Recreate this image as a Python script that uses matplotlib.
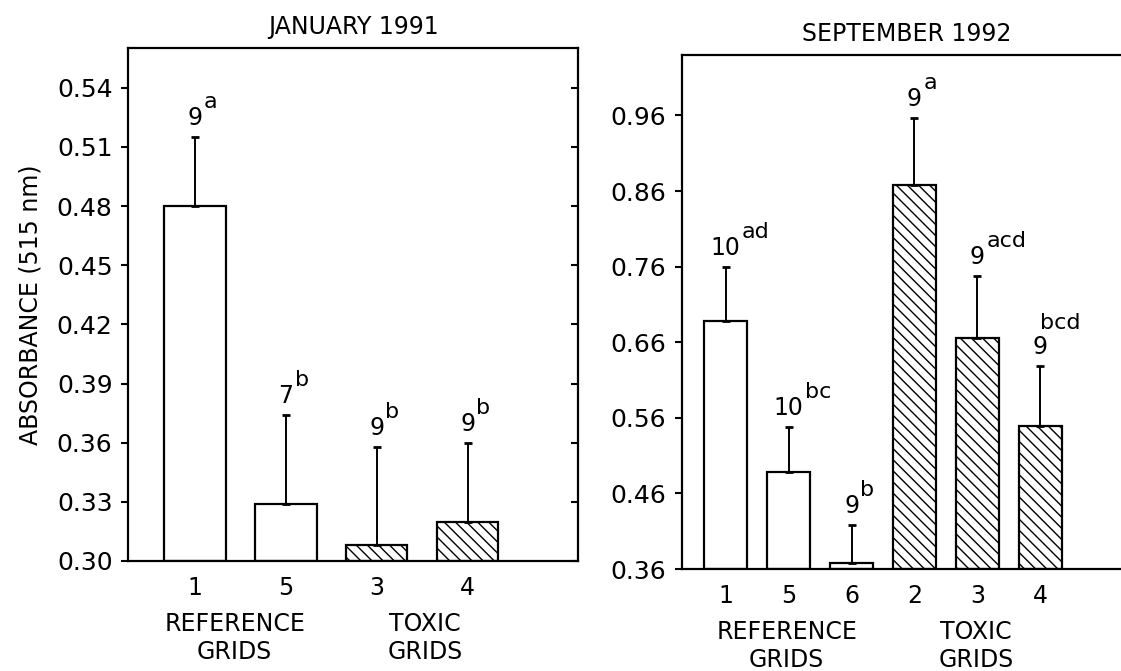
import numpy as np
import matplotlib
matplotlib.use('Agg')
import matplotlib.pyplot as plt

plt.rcParams['font.family'] = ['DejaVu Sans']
plt.rcParams['hatch.linewidth'] = 1.0

# January 1991 data
jan_grids = ['1', '5', '3', '4']
jan_means = [0.480, 0.329, 0.308, 0.320]
jan_upper = [0.515, 0.374, 0.358, 0.360]
jan_n = ['9', '7', '9', '9']
jan_sig = ['a', 'b', 'b', 'b']
jan_toxic = [False, False, True, True]
jan_yticks = [0.30, 0.33, 0.36, 0.39, 0.42, 0.45, 0.48, 0.51, 0.54]

# September 1992 data
sep_grids = ['1', '5', '6', '2', '3', '4']
sep_means = [0.688, 0.489, 0.368, 0.868, 0.665, 0.549]
sep_upper = [0.759, 0.548, 0.418, 0.957, 0.748, 0.628]
sep_n = ['10', '10', '9', '9', '9', '9']
sep_sig = ['ad', 'bc', 'b', 'a', 'acd', 'bcd']
sep_toxic = [False, False, False, True, True, True]
sep_yticks = [0.36, 0.46, 0.56, 0.66, 0.76, 0.86, 0.96]

FS = 18


def draw_panel(ax, grids, means, upper, ns, sigs, toxic, yticks, ylim, xlim,
               title, ref_x, tox_x, stacked_last=False):
    x = np.arange(1, len(grids) + 1)
    means = np.array(means)
    err = np.array(upper) - means
    for xi, m, t in zip(x, means, toxic):
        ax.bar(xi, m - ylim[0], bottom=ylim[0], width=0.68, color='white',
               edgecolor='black', linewidth=1.6, hatch='\\\\\\' if t else None,
               zorder=2)
    ax.errorbar(x, means, yerr=[np.zeros_like(err), err], fmt='none',
                ecolor='black', elinewidth=1.4, capsize=3, capthick=2, zorder=3)
    for i, (xi, u, n, s) in enumerate(zip(x, upper, ns, sigs)):
        num = ax.annotate(n, xy=(xi, u), xytext=(0, 5), textcoords='offset points',
                          ha='center', va='bottom', fontsize=FS - 1)
        if stacked_last and i == len(x) - 1:
            ax.annotate(s, xy=(0.5, 1.0), xycoords=num, xytext=(0, 2),
                        textcoords='offset points', ha='left', va='bottom',
                        fontsize=FS - 2)
        else:
            ax.annotate(s, xy=(1.0, 0.75), xycoords=num, xytext=(1, 0),
                        textcoords='offset points', ha='left', va='bottom',
                        fontsize=FS - 2)

    ax.set_xlim(*xlim)
    ax.set_ylim(*ylim)
    ax.set_yticks(yticks)
    ax.set_yticklabels([f'{v:.2f}' for v in yticks], fontsize=FS)
    ax.set_xticks(x)
    ax.set_xticklabels(grids, fontsize=FS - 1)
    ax.tick_params(axis='x', length=0, pad=11)
    ax.tick_params(axis='y', direction='out', length=5, width=1.5, pad=6)
    for sp in ax.spines.values():
        sp.set_linewidth(1.6)
    sec = ax.secondary_yaxis('right')
    sec.set_yticks(yticks)
    sec.tick_params(direction='in', length=5, width=1.5, labelright=False)
    sec.spines['right'].set_visible(False)

    ax.set_title(title, fontsize=FS - 1, pad=10)
    ax.text(ref_x, -0.10, 'REFERENCE\nGRIDS', transform=ax.get_xaxis_transform(),
            ha='center', va='top', fontsize=FS - 1, linespacing=1.2)
    ax.text(tox_x, -0.10, 'TOXIC\nGRIDS', transform=ax.get_xaxis_transform(),
            ha='center', va='top', fontsize=FS - 1, linespacing=1.2)


fig = plt.figure(figsize=(11.21, 6.71), dpi=100)
ax1 = fig.add_axes([0.114, 0.164, 0.402, 0.764])
ax2 = fig.add_axes([0.608, 0.152, 0.402, 0.766])

draw_panel(ax1, jan_grids, jan_means, jan_upper, jan_n, jan_sig, jan_toxic,
           jan_yticks, (0.30, 0.56), (0.264, 5.22), 'JANUARY 1991', 1.44, 3.53)
draw_panel(ax2, sep_grids, sep_means, sep_upper, sep_n, sep_sig, sep_toxic,
           sep_yticks, (0.36, 1.04), (0.30, 7.46), 'SEPTEMBER 1992', 1.97, 4.98,
           stacked_last=True)

ax1.set_ylabel('ABSORBANCE (515 nm)', fontsize=FS - 1, labelpad=10)

fig.savefig('out.png', dpi=100)
